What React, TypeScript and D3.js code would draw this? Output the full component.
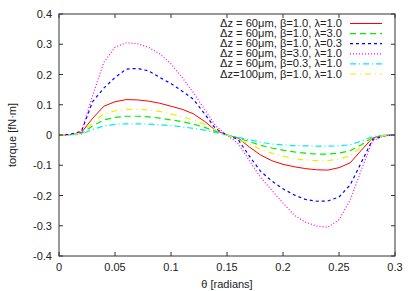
import React from "react";
import { scaleLinear, line } from "d3";

// theta samples [radians]
const theta = [
  0, 0.01, 0.02, 0.03, 0.04, 0.05, 0.06, 0.07, 0.08, 0.09, 0.1, 0.11, 0.12, 0.13, 0.14, 0.15,
  0.16, 0.17, 0.18, 0.19, 0.2, 0.21, 0.22, 0.23, 0.24, 0.25, 0.26, 0.27, 0.28, 0.29, 0.3,
];

// torque [fN·m] per case
const torqueB1L1 = [
  0, 0.001, 0.008, 0.055, 0.095, 0.11, 0.117, 0.116, 0.112, 0.105, 0.095, 0.085, 0.07, 0.045, 0.015, 0,
  -0.01, -0.04, -0.066, -0.085, -0.097, -0.105, -0.111, -0.115, -0.116, -0.108, -0.092, -0.05, -0.01, -0.001, 0,
];
const torqueB1L3 = [
  0, 0.001, 0.005, 0.03, 0.05, 0.058, 0.062, 0.062, 0.06, 0.056, 0.05, 0.044, 0.036, 0.025, 0.012, 0,
  -0.01, -0.022, -0.034, -0.043, -0.05, -0.056, -0.06, -0.063, -0.063, -0.06, -0.052, -0.032, -0.008, -0.001, 0,
];
const torqueB1L03 = [
  0, 0.002, 0.012, 0.11, 0.155, 0.19, 0.218, 0.22, 0.212, 0.19, 0.17, 0.145, 0.118, 0.07, 0.02, 0,
  -0.015, -0.07, -0.12, -0.152, -0.178, -0.198, -0.213, -0.219, -0.218, -0.205, -0.165, -0.09, -0.015, -0.003, 0,
];
const torqueB3L1 = [
  0, 0.001, 0.01, 0.13, 0.24, 0.29, 0.305, 0.302, 0.29, 0.268, 0.235, 0.19, 0.14, 0.085, 0.03, 0,
  -0.028, -0.085, -0.14, -0.183, -0.225, -0.265, -0.288, -0.301, -0.305, -0.28, -0.215, -0.115, -0.02, -0.003, 0,
];
const torqueB03L1 = [
  0, 0.001, 0.003, 0.018, 0.03, 0.035, 0.037, 0.037, 0.036, 0.034, 0.031, 0.027, 0.022, 0.016, 0.008, 0,
  -0.008, -0.016, -0.024, -0.03, -0.033, -0.035, -0.036, -0.037, -0.037, -0.036, -0.032, -0.02, -0.005, -0.001, 0,
];
const torqueDz100 = [
  0, 0.001, 0.006, 0.04, 0.07, 0.08, 0.085, 0.085, 0.083, 0.078, 0.07, 0.06, 0.05, 0.035, 0.016, 0,
  -0.015, -0.03, -0.047, -0.06, -0.07, -0.078, -0.083, -0.085, -0.085, -0.08, -0.068, -0.04, -0.01, -0.002, 0,
];

const labels = [
  "\u0394z = 60\u03bcm, \u03b2=1.0, \u03bb=1.0",
  "\u0394z = 60\u03bcm, \u03b2=1.0, \u03bb=3.0",
  "\u0394z = 60\u03bcm, \u03b2=1.0, \u03bb=0.3",
  "\u0394z = 60\u03bcm, \u03b2=3.0, \u03bb=1.0",
  "\u0394z = 60\u03bcm, \u03b2=0.3, \u03bb=1.0",
  "\u0394z=100\u03bcm, \u03b2=1.0, \u03bb=1.0",
];

const xTicks = [0, 0.05, 0.1, 0.15, 0.2, 0.25, 0.3];
const yTicks = [-0.4, -0.3, -0.2, -0.1, 0, 0.1, 0.2, 0.3, 0.4];

const series = [torqueB1L1, torqueB1L3, torqueB1L03, torqueB3L1, torqueB03L1, torqueDz100];
const styles = [
  { color: "#ff0000", dash: "none", width: 1 },
  { color: "#00ee00", dash: "6,4", width: 1.2 },
  { color: "#0000ff", dash: "3,3", width: 1.2 },
  { color: "#ff00ff", dash: "1,2", width: 1.2 },
  { color: "#00eeee", dash: "6,3,1,3", width: 1.2 },
  { color: "#eeee00", dash: "6,4,1,4", width: 1.2 },
];

const W = 415;
const H = 291;
const left = 59;
const right = 395;
const top = 14;
const bottom = 256;
const font = "'Liberation Sans', Arial, sans-serif";

export default function App() {
  const x = scaleLinear().domain([0, 0.3]).range([left, right]);
  const y = scaleLinear().domain([-0.4, 0.4]).range([bottom, top]);
  const path = line<number>()
    .x((d, i) => x(theta[i]))
    .y((d) => y(d));
  const tick = 4;

  return (
    <svg
      width={W}
      height={H}
      style={{ position: "absolute", left: 0, top: 0, background: "#fff" }}
      fontFamily={font}
      fontSize={11}
    >
      {/* curves */}
      {series.map((s, i) => (
        <path
          key={i}
          d={path(s) || ""}
          fill="none"
          stroke={styles[i].color}
          strokeWidth={styles[i].width}
          strokeDasharray={styles[i].dash}
        />
      ))}

      {/* frame + ticks */}
      <rect x={left} y={top} width={right - left} height={bottom - top} fill="none" stroke="#333" strokeWidth={1} />
      {xTicks.map((t) => (
        <g key={"x" + t}>
          <line x1={x(t)} x2={x(t)} y1={bottom} y2={bottom - tick} stroke="#333" />
          <line x1={x(t)} x2={x(t)} y1={top} y2={top + tick} stroke="#333" />
          <text x={x(t)} y={bottom + 15} textAnchor="middle" fill="#222">
            {t === 0 ? "0" : String(t)}
          </text>
        </g>
      ))}
      {yTicks.map((t) => (
        <g key={"y" + t}>
          <line x1={left} x2={left + tick} y1={y(t)} y2={y(t)} stroke="#333" />
          <line x1={right} x2={right - tick} y1={y(t)} y2={y(t)} stroke="#333" />
          <text x={left - 7} y={y(t) + 4} textAnchor="end" fill="#222">
            {t === 0 ? "0" : String(t)}
          </text>
        </g>
      ))}

      {/* axis titles */}
      <text x={(left + right) / 2} y={288} textAnchor="middle" fill="#222">
        {"\u03b8 [radians]"}
      </text>
      <text
        transform={`translate(16,${(top + bottom) / 2}) rotate(-90)`}
        textAnchor="middle"
        fill="#222"
      >
        torque [fN·m]
      </text>

      {/* legend */}
      {labels.map((lab, i) => {
        const ly = 23.5 + i * 10.1;
        return (
          <g key={lab}>
            <text
              x={342}
              y={ly + 3.5}
              textAnchor="end"
              fill="#222"
              fontSize={10}
              textLength={122}
              lengthAdjust="spacingAndGlyphs"
            >
              {lab}
            </text>
            <line
              x1={350}
              x2={382}
              y1={ly}
              y2={ly}
              stroke={styles[i].color}
              strokeWidth={styles[i].width}
              strokeDasharray={styles[i].dash}
            />
          </g>
        );
      })}
    </svg>
  );
}
